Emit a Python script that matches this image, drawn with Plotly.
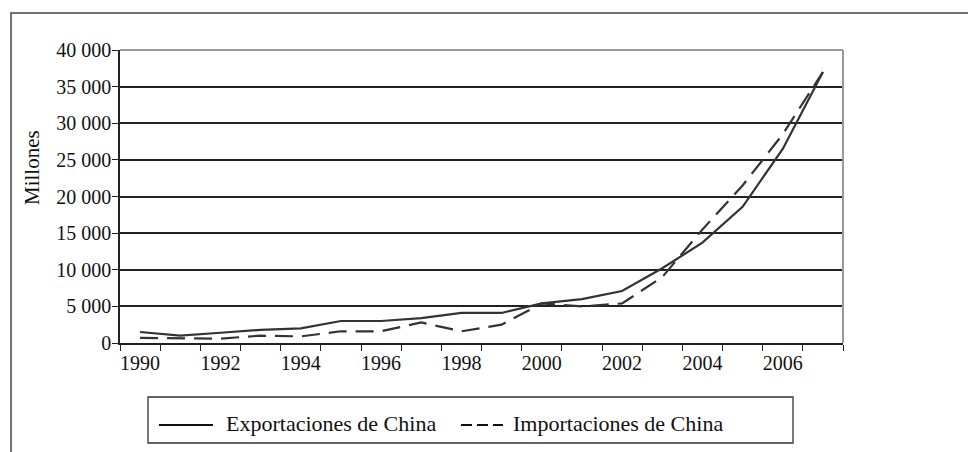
import plotly.graph_objects as go

years = list(range(1990, 2008))
exportaciones = [1500, 1000, 1400, 1800, 2000, 3000, 3000, 3400, 4100, 4100,
                 5400, 6000, 7100, 10200, 13700, 18600, 26500, 37000]
importaciones = [700, 700, 600, 1000, 900, 1600, 1600, 2800, 1600, 2500,
                 5400, 5000, 5400, 9000, 15500, 21500, 28500, 37000]

y_tickvals = [0, 5000, 10000, 15000, 20000, 25000, 30000, 35000, 40000]
y_ticktext = ["0", "5 000", "10 000", "15 000", "20 000", "25 000", "30 000", "35 000", "40 000"]
x_labelvals = [1990, 1992, 1994, 1996, 1998, 2000, 2002, 2004, 2006]
x_boundaries = [y - 0.5 for y in range(1990, 2009)]
series_names = ["Exportaciones de China", "Importaciones de China"]

FONT = "Liberation Serif"
INK = "#222222"
LINE = "#333333"
TXT = "#111111"

# page body adds an 8px offset; figure sized so view coords match the reference
OFF = 8
W, H = 976 - OFF, 452 - OFF
L, T = 120 - OFF, 50 - OFF
pw, ph = 723, 293
R, B = W - L - pw, H - T - ph

def px(xv):
    return (xv - OFF - L) / pw

def py(yv):
    return (H - B - (yv - OFF)) / ph

fig = go.Figure()
fig.add_trace(go.Scatter(x=years, y=exportaciones, mode="lines",
                         name=series_names[0], showlegend=False,
                         line=dict(color=LINE, width=2.2)))
fig.add_trace(go.Scatter(x=years, y=importaciones, mode="lines",
                         name=series_names[1], showlegend=False,
                         line=dict(color=LINE, width=2.2, dash="18px,9px")))
# invisible trace to activate xaxis2
fig.add_trace(go.Scatter(x=[1990], y=[0], xaxis="x2", mode="markers",
                         marker=dict(opacity=0), showlegend=False, hoverinfo="skip"))

fig.update_layout(
    width=W, height=H,
    margin=dict(l=L, r=R, t=T, b=B, autoexpand=False),
    paper_bgcolor="white", plot_bgcolor="white",
    font=dict(family=FONT, color=TXT, size=20),
    showlegend=False,
    xaxis=dict(range=[1989.5, 2007.5], tickmode="array", tickvals=x_boundaries,
               showticklabels=False, ticks="outside", ticklen=6, tickwidth=1.3,
               tickcolor=INK, showline=True, linecolor=INK, linewidth=1.5,
               showgrid=False, zeroline=False, fixedrange=True),
    xaxis2=dict(range=[1989.5, 2007.5], overlaying="x", anchor="y", side="bottom",
                tickmode="array", tickvals=x_labelvals,
                ticktext=[str(v) for v in x_labelvals],
                ticks="", showline=False, showgrid=False, zeroline=False,
                ticklabelstandoff=6,
                tickfont=dict(family=FONT, size=20, color=TXT)),
    yaxis=dict(range=[0, 40000], tickmode="array", tickvals=y_tickvals, ticktext=y_ticktext,
               ticks="outside", ticklen=6, tickwidth=1.3, tickcolor=INK,
               showline=True, linecolor=INK, linewidth=1.5,
               showgrid=True, gridcolor=INK, gridwidth=1.5, zeroline=False,
               ticklabelstandoff=-3,
               tickfont=dict(family=FONT, size=20, color=TXT)),
)

# y-axis title
fig.add_annotation(text="Millones", xref="paper", yref="paper", x=px(32), y=py(168),
                   textangle=-90, showarrow=False, xanchor="center", yanchor="middle",
                   font=dict(family=FONT, size=21, color=TXT))

# grey plot border top and right
fig.add_shape(type="line", xref="paper", yref="paper", x0=0, x1=1, y0=1, y1=1,
              line=dict(color="#9a9a9a", width=2), layer="above")
fig.add_shape(type="line", xref="paper", yref="paper", x0=1, x1=1, y0=0, y1=1,
              line=dict(color="#9a9a9a", width=2), layer="above")

# outer frame
fig.add_shape(type="rect", xref="paper", yref="paper",
              x0=px(11), x1=px(1000), y0=py(480), y1=py(13),
              line=dict(color="#444444", width=1.5), layer="below")

# legend box
fig.add_shape(type="rect", xref="paper", yref="paper",
              x0=px(148), x1=px(793), y0=py(443), y1=py(397),
              line=dict(color="#333333", width=1.3), fillcolor="white", layer="above")
fig.add_shape(type="line", xref="paper", yref="paper",
              x0=px(159), x1=px(213), y0=py(425), y1=py(425),
              line=dict(color="#111111", width=2), layer="above")
fig.add_shape(type="line", xref="paper", yref="paper",
              x0=px(461), x1=px(503), y0=py(425), y1=py(425),
              line=dict(color="#111111", width=2, dash="11px,5px"), layer="above")
fig.add_annotation(text=series_names[0], xref="paper", yref="paper",
                   x=px(224), y=py(423), xanchor="left", yanchor="middle", showarrow=False,
                   font=dict(family=FONT, size=22, color=TXT))
fig.add_annotation(text=series_names[1], xref="paper", yref="paper",
                   x=px(511), y=py(423), xanchor="left", yanchor="middle", showarrow=False,
                   font=dict(family=FONT, size=22, color=TXT))

fig.write_html("out.html")
